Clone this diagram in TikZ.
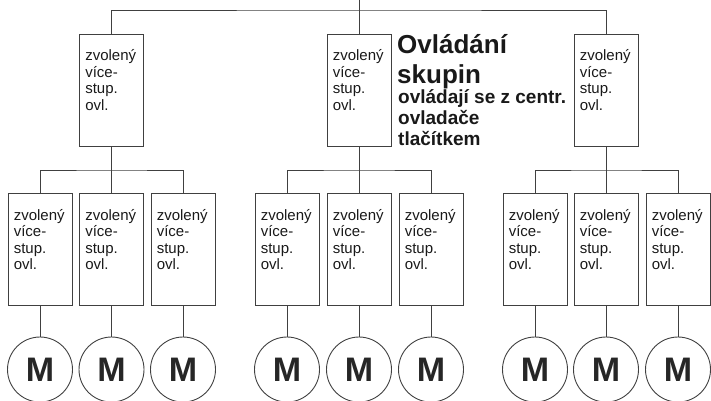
\documentclass[tikz,border=0pt]{standalone}
\usepackage{fontspec}
\setmainfont{Liberation Sans}
\definecolor{linegray}{gray}{0.25}
\definecolor{textgray}{gray}{0.1}
\newcommand\boxfont{\fontsize{15}{16.5}\selectfont}
\newcommand\motorfont{\fontsize{34}{36}\selectfont\bfseries}
\newcommand\titlefont{\fontsize{26}{30}\selectfont\bfseries}
\newcommand\notefont{\fontsize{19}{21}\selectfont\bfseries}
\begin{document}
\begin{tikzpicture}
    [x=1pt,y=-1pt,
     wire/.style={draw=linegray,line width=0.9pt},
     ctrl/.style={shape=rectangle,draw=linegray,line width=0.9pt,
       minimum width=64pt,minimum height=112pt,inner sep=0pt,
       label={[anchor=north west,align=left,font=\boxfont,text=textgray,
         inner xsep=6pt,inner ysep=16pt]north west:zvolený\\více-\\stup.\\ovl.}},
     motor/.style={shape=circle,draw=linegray,line width=0.9pt,
       minimum size=65pt,inner sep=0pt,font=\motorfont,text=black!85}]
    \useasboundingbox (0,0) rectangle (711,400);
    % skupinove ovladace
    \node [ctrl] (u1) at (111.5,90) {};
    \node [ctrl] (u2) at (359,90) {};
    \node [ctrl] (u3) at (606,90) {};
    \coordinate (feed) at (359,0);
    \coordinate (bus) at (359,10);
    \draw [wire] (feed) -- (u2);
    \draw [wire] (u1) |- (bus) -| (u3);
    % ovladace pohonu a motory
    \foreach \g/\a/\b/\c in {1/40/111.5/183, 2/287/359/431, 3/535/606/678} {
      \node [ctrl] (l\g1) at (\a,249.5) {};
      \node [ctrl] (l\g2) at (\b,249.5) {};
      \node [ctrl] (l\g3) at (\c,249.5) {};
      \node [motor] (m\g1) at (\a,369.5) {M} edge [wire] (l\g1);
      \node [motor] (m\g2) at (\b,369.5) {M} edge [wire] (l\g2);
      \node [motor] (m\g3) at (\c,369.5) {M} edge [wire] (l\g3);
      \draw [wire] (u\g) -- (l\g2);
      \draw [wire] (l\g1) |- (u\g |- 0,170) -| (l\g3);
    }
    \node [anchor=base west,align=left,inner sep=0pt,font=\titlefont,text=textgray]
      (title) at (397,83) {Ovládání\\skupin};
    \node [anchor=base west,align=left,inner sep=0pt,font=\notefont,text=textgray]
      (note) at (398,145) {ovládají se z centr.\\ovladače\\tlačítkem};
\end{tikzpicture}
\end{document}
